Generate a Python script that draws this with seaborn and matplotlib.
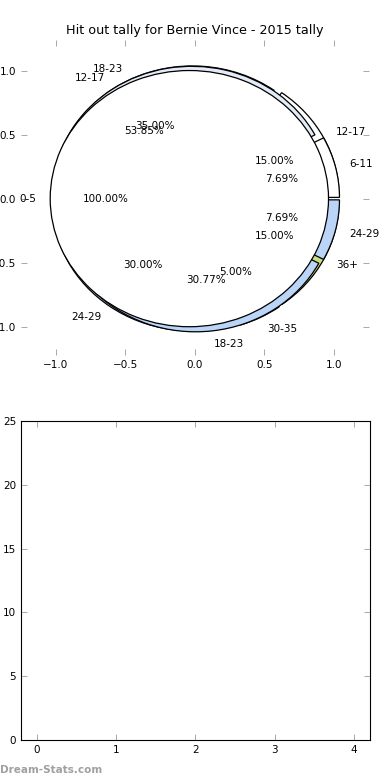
import matplotlib
matplotlib.use("Agg")
import matplotlib.pyplot as plt
import seaborn as sns
import pandas as pd

# ---- data ----
title = "Hit out tally for Bernie Vince - 2015 tally"
inner_labels = ["0-5"]
inner_values = [1]
middle_labels = ["6-11", "12-17", "18-23", "24-29"]
middle_values = [1, 7, 4, 1]
outer_labels = ["12-17", "18-23", "24-29", "30-35", "36+"]
outer_values = [3, 7, 6, 1, 3]
pie_ticks = [-1.0, -0.5, 0.0, 0.5, 1.0]
bar_xticks = [0, 1, 2, 3, 4]
bar_yticks = [0, 5, 10, 15, 20, 25]

palette = ["#ffffff", "#e3eaf8", "#bad5f8", "#bad5f8", "#c9de7c"]

sns.set_style("white")
plt.rcParams.update({
    "font.family": ["DejaVu Sans"],
    "text.color": "black",
    "axes.labelcolor": "black",
    "axes.titlecolor": "black",
    "xtick.direction": "in",
    "ytick.direction": "in",
    "xtick.top": True,
    "ytick.right": True,
    "xtick.bottom": True,
    "ytick.left": True,
    "xtick.major.size": 4,
    "ytick.major.size": 4,
    "xtick.major.width": 0.6,
    "ytick.major.width": 0.6,
    "xtick.color": "#999999",
    "ytick.color": "#999999",
    "xtick.labelcolor": "black",
    "ytick.labelcolor": "black",
    "xtick.labelsize": 7.5,
    "ytick.labelsize": 7.5,
    "axes.edgecolor": "black",
    "axes.linewidth": 0.8,
})

fig = plt.figure(figsize=(3.9, 7.8), dpi=100)
ax1 = fig.add_axes([0.0538, 0.545, 0.892, 0.404])
ax2 = fig.add_axes([0.0538, 0.0513, 0.894, 0.409])

wp = dict(edgecolor="black", linewidth=0.9)
tp = dict(fontsize=7.5, color="black")
for vals, labs in [(outer_values, outer_labels),
                   (middle_values, middle_labels),
                   (inner_values, inner_labels)]:
    ax1.pie(vals, labels=labs, colors=palette[:len(vals)],
            explode=[0.04] * len(vals), autopct="%.2f%%",
            startangle=0, wedgeprops=wp, textprops=tp)

ax1.set_aspect("auto")
ax1.set_xlim(-1.25, 1.25)
ax1.set_ylim(-1.22, 1.24)
ax1.set_frame_on(False)
ax1.set_xticks(pie_ticks)
ax1.set_yticks(pie_ticks)
ax1.set_title(title, fontsize=9.2, pad=4, color="black")

empty = pd.DataFrame({"x": pd.Series([], dtype=float), "y": pd.Series([], dtype=float)})
sns.barplot(data=empty, x="x", y="y", ax=ax2)
ax2.set_xlim(-0.2, 4.2)
ax2.set_ylim(0, 25)
ax2.set_xticks(bar_xticks)
ax2.set_yticks(bar_yticks)
ax2.set_xlabel("")
ax2.set_ylabel("")
for s in ax2.spines.values():
    s.set_visible(True)
    s.set_color("black")

fig.text(0.0, 0.0128, "Dream-Stats.com", fontsize=7.5, fontweight="bold",
         color="#a0a0a0", ha="left", va="center")

fig.savefig("out.png", dpi=100)
